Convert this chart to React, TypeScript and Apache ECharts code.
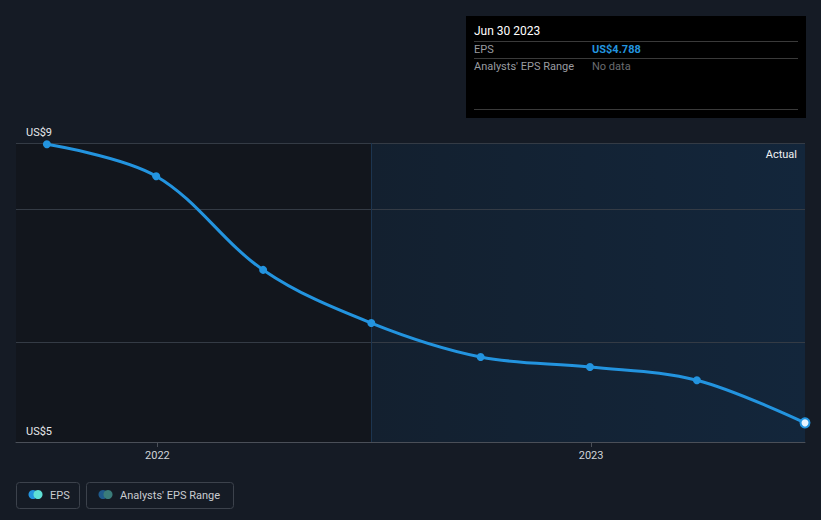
import React, { useEffect, useRef } from "react";
import * as echarts from "echarts";

const dates = ["2021-09-30", "2021-12-31", "2022-03-31", "2022-06-30", "2022-09-30", "2022-12-31", "2023-03-31", "2023-06-30"];
const eps = [8.98, 8.5, 7.09, 6.29, 5.78, 5.63, 5.43, 4.788];
const yGridValues = [9, 8, 6];
const yLabelValues = [4.5, 9];
const yLabelTexts = ["US$5", "US$9"];
const xTickDates = ["2022-01-01", "2023-01-01"];
const xTickLabels = ["2022", "2023"];
const xMin = "2021-09-04";
const xMax = "2023-06-30";
const pastStart = "2022-06-30";

const BLUE = "#2394df";
const FONT = "Roboto, 'Noto Sans', sans-serif";
const t = (d: string) => new Date(d + "T00:00:00Z").getTime();

export default function App() {
  const ref = useRef<HTMLDivElement>(null);
  useEffect(() => {
    const chart = echarts.init(ref.current!, undefined, { renderer: "svg" });
    const tickTimes = xTickDates.map(t);
    const data = dates.map((d, i) => {
      const last = i === dates.length - 1;
      return {
        value: [t(d), eps[i]],
        itemStyle: last ? { color: "#e8f4ff", borderColor: BLUE, borderWidth: 2 } : { color: BLUE },
        symbolSize: last ? 9 : 8,
      };
    });
    const staticGraphics: any[] = [
      { type: "rect", shape: { x: 466, y: 16, width: 340, height: 102 }, style: { fill: "#000000" } },
      { type: "text", x: 474, y: 31, style: { text: "Jun 30 2023", fill: "#ffffff", font: `12px ${FONT}`, verticalAlign: "middle" } },
      { type: "line", shape: { x1: 474, y1: 41.5, x2: 798, y2: 41.5 }, style: { stroke: "#3a3a3a", lineWidth: 1 } },
      { type: "text", x: 474, y: 49, style: { text: "EPS", fill: "#9a9ca0", font: `11px ${FONT}`, verticalAlign: "middle" } },
      { type: "text", x: 592, y: 49, style: { text: "US$4.788", fill: BLUE, font: `bold 11px ${FONT}`, verticalAlign: "middle" } },
      { type: "line", shape: { x1: 474, y1: 58.5, x2: 798, y2: 58.5 }, style: { stroke: "#3a3a3a", lineWidth: 1 } },
      { type: "text", x: 474, y: 66, style: { text: "Analysts' EPS Range", fill: "#9a9ca0", font: `11px ${FONT}`, verticalAlign: "middle" } },
      { type: "text", x: 592, y: 66, style: { text: "No data", fill: "#6a6c70", font: `11px ${FONT}`, verticalAlign: "middle" } },
      { type: "line", shape: { x1: 474, y1: 109.5, x2: 798, y2: 109.5 }, style: { stroke: "#3a3a3a", lineWidth: 1 } },
      { type: "rect", shape: { x: 16.5, y: 482.5, width: 63, height: 26, r: 3 }, style: { fill: "none", stroke: "#3c424c", lineWidth: 1 } },
      { type: "circle", shape: { cx: 33, cy: 494.5, r: 4.5 }, style: { fill: BLUE } },
      { type: "circle", shape: { cx: 38, cy: 494.5, r: 4.5 }, style: { fill: "#5fe0d6" } },
      { type: "text", x: 50, y: 495, style: { text: "EPS", fill: "#c9ccd1", font: `11px ${FONT}`, verticalAlign: "middle" } },
      { type: "rect", shape: { x: 86.5, y: 482.5, width: 147, height: 26, r: 3 }, style: { fill: "none", stroke: "#3c424c", lineWidth: 1 } },
      { type: "circle", shape: { cx: 103, cy: 494.5, r: 4.5 }, style: { fill: "#1f5a8c" } },
      { type: "circle", shape: { cx: 108, cy: 494.5, r: 4.5 }, style: { fill: "#3a7c7a" } },
      { type: "text", x: 120, y: 495, style: { text: "Analysts' EPS Range", fill: "#c9ccd1", font: `11px ${FONT}`, verticalAlign: "middle" } },
    ];
    chart.setOption({
      animation: false,
      backgroundColor: "#151b25",
      textStyle: { fontFamily: FONT },
      grid: { left: 16, right: 16, top: 143, bottom: 78, containLabel: false },
      xAxis: {
        type: "value",
        min: t(xMin),
        max: t(xMax),
        axisLine: { show: true, lineStyle: { color: "#4a4f58", width: 1 } },
        axisTick: { show: true, customValues: tickTimes, length: 5, lineStyle: { color: "#4a4f58" } },
        axisLabel: {
          customValues: tickTimes,
          color: "#d0d3d8",
          fontSize: 11,
          margin: 8,
          fontFamily: FONT,
          formatter: (v: number) => {
            const idx = tickTimes.findIndex((tt) => Math.abs(tt - v) < 86400000 * 2);
            return idx >= 0 ? xTickLabels[idx] : "";
          },
        },
        splitLine: { show: false },
      },
      yAxis: {
        type: "value",
        min: 4.5,
        max: 9,
        axisLine: { show: false },
        axisTick: { show: false },
        splitLine: { show: false },
        axisLabel: { show: false },
      },
      series: [
        {
          type: "line",
          data,
          smooth: 0.35,
          symbol: "circle",
          lineStyle: { color: BLUE, width: 3 },
          z: 5,
          clip: true,
          markArea: {
            silent: true,
            label: { show: false },
            data: [
              [
                { xAxis: t(xMin), itemStyle: { color: "#12161d" } },
                { xAxis: t(pastStart) },
              ],
              [
                {
                  name: "Actual",
                  xAxis: t(pastStart),
                  itemStyle: {
                    color: new echarts.graphic.LinearGradient(0, 0, 1, 0, [
                      { offset: 0, color: "#13202f" },
                      { offset: 1, color: "#13263b" },
                    ]),
                  },
                  label: {
                    show: true,
                    position: "insideTopRight",
                    formatter: "Actual",
                    color: "#f0f2f4",
                    fontSize: 11,
                    fontFamily: FONT,
                    distance: 6,
                    padding: [0, 2, 0, 0],
                  },
                },
                { xAxis: t(xMax) },
              ],
            ],
          },
          markLine: {
            silent: true,
            symbol: "none",
            label: { show: false },
            data: [
              ...yGridValues.map((v) => ({ yAxis: v, lineStyle: { color: "#343b45", width: 1, type: "solid" } })),
              { xAxis: t(pastStart), lineStyle: { color: "#1c3550", width: 1, type: "solid" } },
            ],
          },
        },
      ],
      graphic: staticGraphics,
    });
    const yLabelGraphics = yLabelValues.map((v, i) => {
      const p = chart.convertToPixel({ gridIndex: 0 }, [t(xMin), v]) as number[];
      return {
        type: "text",
        z: 100,
        x: p[0] + 10,
        y: p[1] - 5,
        style: { text: yLabelTexts[i], fill: "#e6e8eb", font: `11px ${FONT}`, verticalAlign: "bottom" },
      };
    });
    chart.setOption({ graphic: [...staticGraphics, ...yLabelGraphics] }, { replaceMerge: ["graphic"] });
    return () => chart.dispose();
  }, []);
  return <div ref={ref} style={{ position: "fixed", left: 0, top: 0, width: 821, height: 520, background: "#151b25" }} />;
}
